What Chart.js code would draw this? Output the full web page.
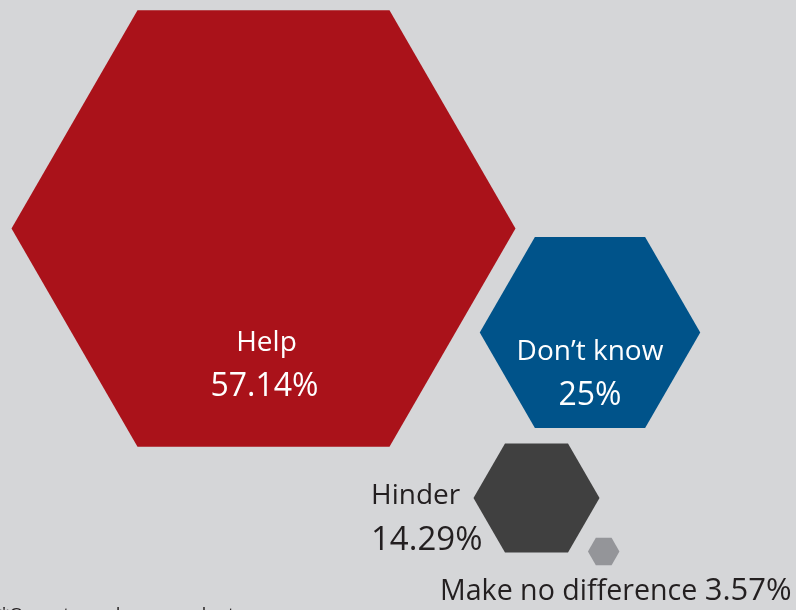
<!DOCTYPE html>
<html>
<head>
<meta charset="utf-8">
<title>Impact on operations</title>
<script src="https://cdn.jsdelivr.net/npm/chart.js@4.4.1/dist/chart.umd.min.js"></script>
<style>
  html, body { margin: 0; padding: 0; background: #d5d6d8; }
  #wrap { position: relative; width: 796px; height: 610px; overflow: hidden; }
</style>
</head>
<body>
<div id="wrap"><canvas id="chart"></canvas></div>
<script>
// Survey answers and their shares (percent of respondents)
const categories = ['Help', 'Don\u2019t know', 'Hinder', 'Make no difference'];
const shares = [57.14, 25, 14.29, 3.57];
const footnote = '*Operator only respondents';

// Layout: hexagon centres on the hidden x/y scales, and pixels of radius per percent
const centreX = [263.5, 590, 536.5, 603.7];
const centreY = [228.5, 332.5, 498, 551.5];
const radiusPerPercent = 4.41;

// Styles
const fills = ['#aa121a', '#00538a', '#404040', '#949599'];
const FONT = '"Open Sans", "Noto Sans", sans-serif';

// Label placement relative to each hexagon centre (px)
const labelLayout = [
  { name: { dx: 3,  dy: 122.5, size: 28, align: 'center', color: '#ffffff' },
    pct:  { dx: 1,  dy: 167.5, size: 32, align: 'center', color: '#ffffff' } },
  { name: { dx: 0,  dy: 27,    size: 28, align: 'center', color: '#ffffff' },
    pct:  { dx: 0,  dy: 72.5,  size: 32, align: 'center', color: '#ffffff' } },
  { name: { dx: -165.5, dy: 6,  size: 28, align: 'left', color: '#231f20' },
    pct:  { dx: -165.5, dy: 52, size: 33, align: 'left', color: '#231f20' } },
  { name: { dx: -163.7, dy: 48.5, size: 28.6, align: 'left',  color: '#231f20' },
    pct:  { dx: 188,    dy: 48.5, size: 31, align: 'right', color: '#231f20' } }
];

const hexagonPlugin = {
  id: 'hexagons',
  beforeDraw(chart) {
    const { ctx, width, height } = chart;
    ctx.save();
    ctx.fillStyle = '#d5d6d8';
    ctx.fillRect(0, 0, width, height);
    ctx.restore();
  },
  afterDatasetsDraw(chart) {
    const { ctx } = chart;
    const meta = chart.getDatasetMeta(0);
    meta.data.forEach((el, i) => {
      const r = el.options.radius;
      ctx.save();
      ctx.beginPath();
      for (let k = 0; k < 6; k++) {
        const a = Math.PI / 3 * k;
        const px = el.x + r * Math.cos(a);
        const py = el.y + r * Math.sin(a);
        if (k === 0) ctx.moveTo(px, py); else ctx.lineTo(px, py);
      }
      ctx.closePath();
      ctx.fillStyle = fills[i];
      ctx.fill();
      ctx.restore();
    });
    // labels
    meta.data.forEach((el, i) => {
      const lay = labelLayout[i];
      const texts = [[categories[i], lay.name], [shares[i] + '%', lay.pct]];
      texts.forEach(([txt, s]) => {
        ctx.save();
        ctx.font = s.size + 'px ' + FONT;
        ctx.fillStyle = s.color;
        ctx.textAlign = s.align;
        ctx.textBaseline = 'alphabetic';
        ctx.fillText(txt, el.x + s.dx, el.y + s.dy);
        ctx.restore();
      });
    });
    ctx.save();
    ctx.font = '18.5px ' + FONT;
    ctx.fillStyle = '#231f20';
    ctx.textAlign = 'left';
    ctx.textBaseline = 'alphabetic';
    ctx.fillText(footnote, -1, 620.5);
    ctx.restore();
  }
};

new Chart(document.getElementById('chart'), {
  type: 'bubble',
  data: {
    labels: categories,
    datasets: [{
      label: 'Share of respondents',
      data: shares.map((v, i) => ({ x: centreX[i], y: centreY[i], r: v * radiusPerPercent })),
      backgroundColor: 'rgba(0,0,0,0)',
      borderWidth: 0,
      hoverBorderWidth: 0
    }]
  },
  options: {
    responsive: true,
    maintainAspectRatio: false,
    animation: false,
    events: [],
    layout: { padding: 0, autoPadding: false },
    scales: {
      x: { type: 'linear', min: 0, max: 796, display: false },
      y: { type: 'linear', min: 0, max: 610, reverse: true, display: false }
    },
    plugins: {
      legend: { display: false },
      tooltip: { enabled: false }
    }
  },
  plugins: [hexagonPlugin]
});
</script>
</body>
</html>
